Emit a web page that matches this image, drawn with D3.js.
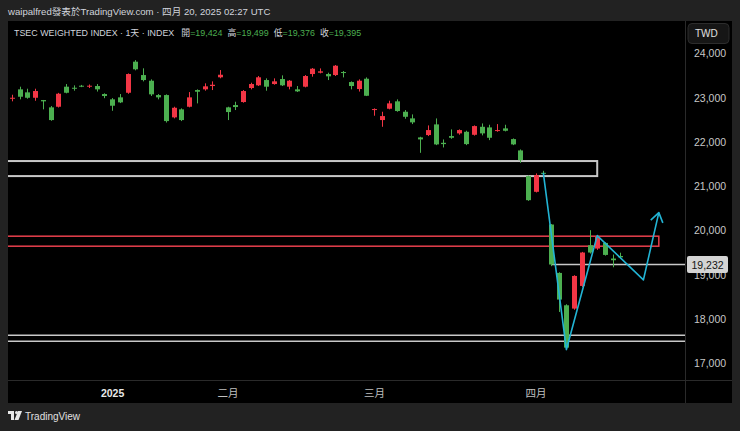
<!DOCTYPE html>
<html>
<head>
<meta charset="utf-8">
<script src="https://cdn.jsdelivr.net/npm/d3@7"></script>
<style>
  html, body { margin: 0; padding: 0; background: #222; }
  svg { display: block; }
  text { font-family: "Liberation Sans", Roboto, "Noto Sans CJK TC", sans-serif; }
</style>
</head>
<body>
<div id="chart"></div>
<script>
const width = 740;
const height = 431;

// daily candles, Dec 13 2024 .. Apr 18 2025
const dates = [
  "2024-12-13","2024-12-16","2024-12-17","2024-12-18","2024-12-19","2024-12-20",
  "2024-12-23","2024-12-24","2024-12-25","2024-12-26","2024-12-27","2024-12-30","2024-12-31",
  "2025-01-02","2025-01-03","2025-01-06","2025-01-07","2025-01-08","2025-01-09","2025-01-10",
  "2025-01-13","2025-01-14","2025-01-15","2025-01-16","2025-01-17","2025-01-20","2025-01-21","2025-01-22",
  "2025-02-03","2025-02-04","2025-02-05","2025-02-06","2025-02-07","2025-02-10","2025-02-11",
  "2025-02-12","2025-02-13","2025-02-14","2025-02-17","2025-02-18","2025-02-19","2025-02-20",
  "2025-02-21","2025-02-24","2025-02-25","2025-02-26","2025-02-27",
  "2025-03-03","2025-03-04","2025-03-05","2025-03-06","2025-03-07","2025-03-10","2025-03-11",
  "2025-03-12","2025-03-13","2025-03-14","2025-03-17","2025-03-18","2025-03-19","2025-03-20",
  "2025-03-21","2025-03-24","2025-03-25","2025-03-26","2025-03-27","2025-03-28","2025-03-31",
  "2025-04-01","2025-04-02","2025-04-07","2025-04-08","2025-04-09","2025-04-10","2025-04-11",
  "2025-04-14","2025-04-15","2025-04-16","2025-04-17","2025-04-18"
];
const opens = [
  22980,23190,23122,23000,22948,22783,22797,23250,23226,23272,23250,23265,23084,
  22964,23009,23113,23815,23513,23385,23061,23061,22557,22738,22797,23174,23190,23265,23462,
  22783,22835,22903,23220,23281,23400,23310,23423,23250,23190,23250,23536,23566,23536,23513,
  23581,23355,23197,23430,
  22722,22496,22752,22919,22684,22534,22104,22157,22398,21982,22134,22195,22231,22163,22344,
  22330,22247,22308,22066,21810,21229,
  20875,21304,20136,19042,18311,18236,18748,19668,19593,19720,19367,19424
];
const highs = [
  23068,23250,23204,23204,22950,22812,23110,23310,23280,23290,23300,23310,23100,
  22993,23084,23550,23850,23665,23415,23084,23076,22797,22760,23129,23190,23326,23370,23626,
  22797,22910,23174,23340,23491,23438,23438,23506,23400,23265,23513,23672,23663,23566,23740,
  23604,23370,23415,23460,
  22760,22684,22933,22964,22722,22624,22118,22375,22533,22058,22285,22285,22255,22375,22420,
  22390,22405,22390,22081,21832,21244,
  21290,21349,20145,19057,18334,18990,19517,20008,19894,19735,19458,19499
];
const lows = [
  22919,22964,22978,22932,22738,22480,22780,23100,23160,23240,23220,23140,22990,
  22706,22880,23090,23620,23370,23040,22964,22440,22534,22473,22783,22873,23160,23174,23440,
  22496,22722,22888,23190,23265,23159,23295,23265,23190,23130,23235,23476,23551,23400,23491,
  23460,23190,23140,23038,
  22594,22344,22738,22684,22526,22405,21756,22134,21930,21877,22073,22165,21930,22145,22150,
  22043,22232,22240,21930,21530,20671,
  20860,21250,19195,18160,17300,18210,18725,19480,19563,19433,19170,19376
];
const closes = [
  23000,23023,23000,23152,22919,22496,23091,23113,23213,23250,23272,23190,23039,
  22820,22896,23536,23643,23400,23077,23009,22473,22774,22496,23009,23136,23258,23294,23520,
  22677,22790,23152,23310,23462,23250,23371,23281,23385,23145,23491,23656,23597,23484,23724,
  23566,23265,23385,23045,
  22745,22586,22873,22700,22570,22444,22059,22270,21946,21953,22096,22270,21953,22360,22195,
  22096,22270,22254,21946,21591,20686,
  21252,21290,19232,18440,17354,18974,19503,19503,19856,19449,19329,19395
];

const priceTicks = [17000, 18000, 19000, 20000, 21000, 22000, 23000, 24000];
const timeTickDates = ["2025-01-02", "2025-02-03", "2025-03-03", "2025-04-01"];
const timeTickLabels = ["2025", "二月", "三月", "四月"];

// drawings on the chart
const whiteBox = { endDate: "2025-04-15", top: 21570, bottom: 21230 };
const redBox = { endIdx: 84, top: 19872, bottom: 19646 };
const closeLine = { startDate: "2025-04-07", value: 19232 };
const supportLines = [17633, 17497];
const pathIdx = [69, 72, 76, 82, 84];
const pathVals = [21304, 17310, 19885, 18885, 20405];

const legendName = "TSEC WEIGHTED INDEX · 1天 · INDEX";
const legendKeys = ["開", "高", "低", "收"];
const legendVals = ["19,424", "19,499", "19,376", "19,395"];

const upColor = "#f23645";
const downColor = "#4caf50";

const plot = { left: 8, right: 685, top: 21, bottom: 380 };

var candles = dates.map((d, i) => ({
  date: d, i: i, o: opens[i], h: highs[i], l: lows[i], c: closes[i]
}));

var svg = d3.select("#chart").append("svg")
  .attr("width", width)
  .attr("height", height);

svg.append("rect").attr("width", width).attr("height", height).attr("fill", "#222");

// black chart pane
svg.append("rect")
  .attr("x", 8).attr("y", 21)
  .attr("width", 724).attr("height", 382)
  .attr("fill", "#000");

var x = d3.scaleLinear().domain([-0.52, 87.4]).range([plot.left, plot.right]);
var y = d3.scaleLinear().domain([17000, 24000]).range([363.3, 53.5]);

// header
svg.append("text")
  .attr("x", 8).attr("y", 14.5)
  .attr("fill", "#d1d4dc")
  .style("font-size", "9.6px")
  .text("waipalfred發表於TradingView.com · 四月 20, 2025 02:27 UTC");

// separators
svg.append("line")
  .attr("x1", plot.right + 0.5).attr("x2", plot.right + 0.5)
  .attr("y1", 21).attr("y2", 403)
  .attr("stroke", "#2a2a2a");
svg.append("line")
  .attr("x1", 8).attr("x2", 732)
  .attr("y1", plot.bottom + 0.5).attr("y2", plot.bottom + 0.5)
  .attr("stroke", "#2a2a2a");

svg.append("clipPath").attr("id", "clip")
  .append("rect")
  .attr("x", plot.left).attr("y", plot.top)
  .attr("width", plot.right - plot.left).attr("height", plot.bottom - plot.top);

var g = svg.append("g").attr("clip-path", "url(#clip)");

// white zone (box)
var wEnd = dates.indexOf(whiteBox.endDate);
g.append("rect")
  .attr("x", x(-3))
  .attr("y", y(whiteBox.top))
  .attr("width", x(wEnd) - x(-3))
  .attr("height", y(whiteBox.bottom) - y(whiteBox.top))
  .attr("fill", "none")
  .attr("stroke", "#c8c8c8")
  .attr("stroke-width", 2);

// red zone (box)
g.append("rect")
  .attr("x", x(-3))
  .attr("y", y(redBox.top))
  .attr("width", x(redBox.endIdx) - x(-3))
  .attr("height", y(redBox.bottom) - y(redBox.top))
  .attr("fill", "none")
  .attr("stroke", "#e8404d")
  .attr("stroke-width", 1.5);

// support lines
g.selectAll(".support")
  .data(supportLines)
  .enter().append("line")
  .attr("class", "support")
  .attr("x1", plot.left).attr("x2", plot.right)
  .attr("y1", d => y(d)).attr("y2", d => y(d))
  .attr("stroke", "#c8c8c8")
  .attr("stroke-width", 1.5);

// close ray
var cStart = dates.indexOf(closeLine.startDate);
g.append("line")
  .attr("x1", x(cStart)).attr("x2", plot.right)
  .attr("y1", y(closeLine.value)).attr("y2", y(closeLine.value))
  .attr("stroke", "#c8c8c8")
  .attr("stroke-width", 1.5);

// candles
var candle = g.selectAll(".candle")
  .data(candles)
  .enter().append("g")
  .attr("class", "candle");

candle.append("line")
  .attr("x1", d => Math.round(x(d.i)) + 0.5)
  .attr("x2", d => Math.round(x(d.i)) + 0.5)
  .attr("y1", d => y(d.h))
  .attr("y2", d => y(d.l))
  .attr("stroke", d => d.c >= d.o ? upColor : downColor)
  .attr("stroke-width", 1);

candle.append("rect")
  .attr("x", d => Math.round(x(d.i)) - 2)
  .attr("y", d => y(Math.max(d.o, d.c)))
  .attr("width", 5)
  .attr("height", d => Math.max(1, Math.abs(y(d.o) - y(d.c))))
  .attr("fill", d => d.c >= d.o ? upColor : downColor);

// projection path
var pts = pathIdx.map((d, i) => [x(d), y(pathVals[i])]);
g.append("path")
  .attr("d", d3.line()(pts))
  .attr("fill", "none")
  .attr("stroke", "#22b4d4")
  .attr("stroke-width", 1.6)
  .attr("stroke-linejoin", "round");

// arrow head
var tip = pts[pts.length - 1];
var prev = pts[pts.length - 2];
var ang = Math.atan2(tip[1] - prev[1], tip[0] - prev[0]);
var headLen = 11;
var wing = function(a) {
  return [tip[0] - headLen * Math.cos(ang + a), tip[1] - headLen * Math.sin(ang + a)];
};
g.append("path")
  .attr("d", d3.line()([wing(0.6), tip, wing(-0.6)]))
  .attr("fill", "none")
  .attr("stroke", "#22b4d4")
  .attr("stroke-width", 1.6)
  .attr("stroke-linejoin", "round");

// legend
var legend = svg.append("text")
  .attr("x", 14).attr("y", 36)
  .style("font-size", "8.9px")
  .attr("fill", "#d1d4dc");
legend.append("tspan").text(legendName);
legendKeys.forEach((k, i) => {
  legend.append("tspan").attr("dx", i === 0 ? 7 : 5).attr("fill", "#d1d4dc").text(k);
  legend.append("tspan").attr("fill", "#4caf50").text("=" + legendVals[i]);
});

// price axis
var yAxis = d3.axisRight(y)
  .tickValues(priceTicks)
  .tickFormat(d3.format(","))
  .tickSize(0);

svg.append("g")
  .attr("transform", "translate(" + (plot.right + 6) + ",0)")
  .call(yAxis)
  .call(ax => ax.select(".domain").remove())
  .selectAll("text")
  .attr("fill", "#c8c8c8")
  .style("font-size", "10.5px")
  .style("font-family", "'Liberation Sans', Roboto, sans-serif");

// price label for the ray (sits over the 19,000 tick as in the original)
var lab = svg.append("g")
  .attr("transform", "translate(" + (plot.right + 2) + "," + y(closeLine.value) + ")");
lab.append("rect")
  .attr("x", 0).attr("y", -8.5)
  .attr("width", 41).attr("height", 17)
  .attr("rx", 2)
  .attr("fill", "#d4d4d4");
lab.append("text")
  .attr("x", 4.5).attr("y", 4)
  .attr("fill", "#131313")
  .style("font-size", "10.5px")
  .text(d3.format(",")(closeLine.value));

// currency box
svg.append("rect")
  .attr("x", 688).attr("y", 23.5)
  .attr("width", 41).attr("height", 20)
  .attr("rx", 4)
  .attr("fill", "#161616")
  .attr("stroke", "#2c2c2c");
svg.append("text")
  .attr("x", 695).attr("y", 37)
  .attr("fill", "#e0e0e0")
  .style("font-size", "10px")
  .text("TWD");

// time axis
var tickIdx = timeTickDates.map(d => dates.indexOf(d));
var xAxis = d3.axisBottom(x)
  .tickValues(tickIdx)
  .tickFormat((d, i) => timeTickLabels[i])
  .tickSize(0);

svg.append("g")
  .attr("transform", "translate(0," + (plot.bottom + 7) + ")")
  .call(xAxis)
  .call(ax => ax.select(".domain").remove())
  .selectAll("text")
  .attr("fill", (d, i) => i === 0 ? "#e8e8e8" : "#c0c0c0")
  .style("font-weight", (d, i) => i === 0 ? "bold" : "normal")
  .style("font-size", "10.5px");

// footer logo
var logo = svg.append("g").attr("transform", "translate(8,411)");
logo.append("path")
  .attr("d", "M0,0 H6 V9 H3 V3 H0 Z")
  .attr("fill", "#e8e8e8");
logo.append("circle").attr("cx", 8.5).attr("cy", 1.5).attr("r", 1.5).attr("fill", "#e8e8e8");
logo.append("path")
  .attr("d", "M10,0 H14 L10.5,9 H6.5 Z")
  .attr("fill", "#e8e8e8");
svg.append("text")
  .attr("x", 25).attr("y", 420)
  .attr("fill", "#e0e0e0")
  .style("font-size", "10px")
  .text("TradingView");
</script>
</body>
</html>
